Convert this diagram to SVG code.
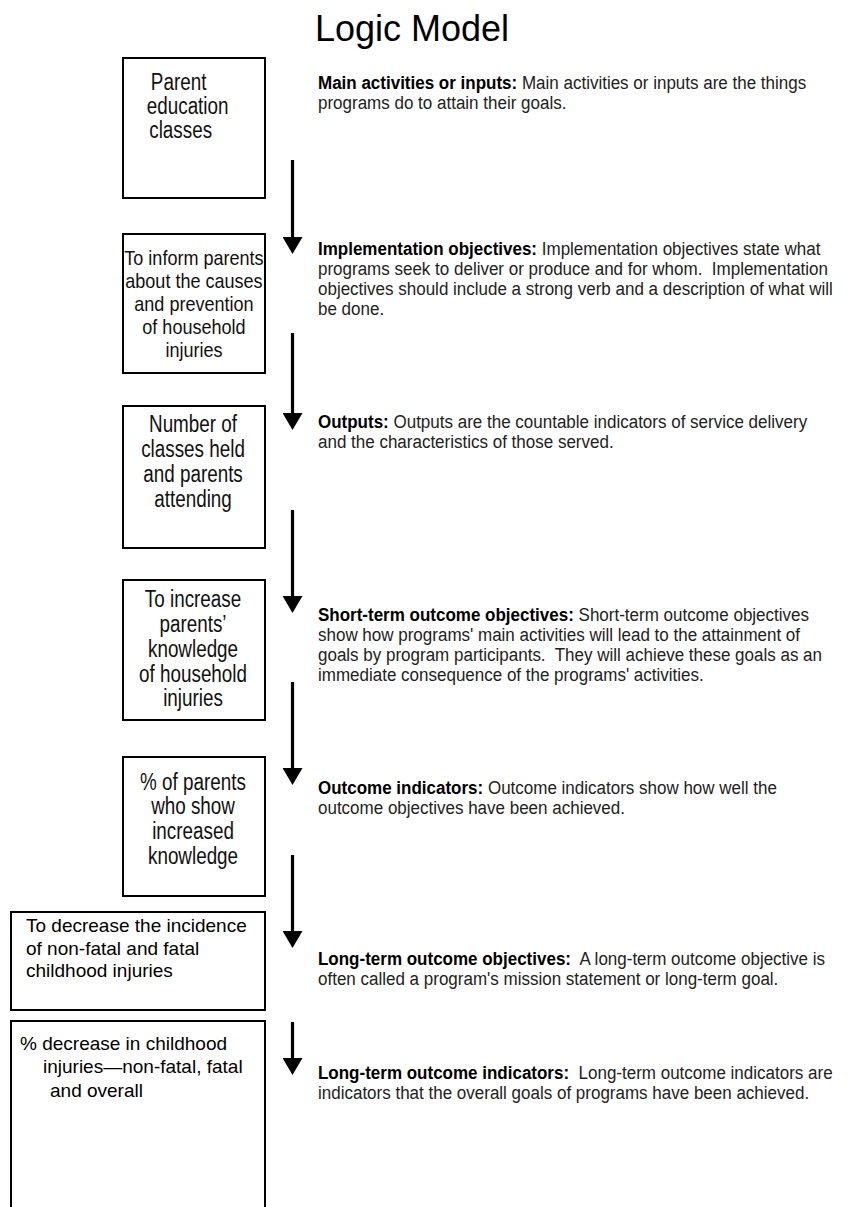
<svg xmlns="http://www.w3.org/2000/svg" width="854" height="1207" viewBox="0 0 854 1207">
<style>
.box{fill:#fff;stroke:#000;stroke-width:2}
.title{font-family:"Liberation Sans",Arial,sans-serif;font-size:36px;fill:#000}
.bt{font-family:"Liberation Sans",Arial,sans-serif;font-size:23px;fill:#111;text-anchor:middle}
.bt2{font-family:"Liberation Sans",Arial,sans-serif;font-size:21px;fill:#111;text-anchor:middle}
.btl{font-family:"Liberation Sans",Arial,sans-serif;font-size:23px;fill:#111}
.rt{font-family:"Liberation Sans",Arial,sans-serif;font-size:19px;fill:#222}
.b{font-weight:bold;fill:#000}
.wt{font-family:"Liberation Sans",Arial,sans-serif;font-size:19px;fill:#000}
.arr{stroke:#000;stroke-width:3.2;fill:none}
</style>
<defs>
<marker id="ah" viewBox="0 0 17 20" refX="9" refY="10" markerWidth="17" markerHeight="20" markerUnits="userSpaceOnUse" orient="auto">
<path d="M0,0 L17,10 L0,20 Z" fill="#000"/>
</marker>
</defs>
<rect width="854" height="1207" fill="#fff"/>
<text class="title" x="315" y="41">Logic Model</text>

<g id="connectors">
<line class="arr" x1="292.5" y1="160" x2="292.5" y2="246" marker-end="url(#ah)"/>
<line class="arr" x1="292.5" y1="333" x2="292.5" y2="422" marker-end="url(#ah)"/>
<line class="arr" x1="292.5" y1="510" x2="292.5" y2="605" marker-end="url(#ah)"/>
<line class="arr" x1="292.5" y1="682" x2="292.5" y2="777" marker-end="url(#ah)"/>
<line class="arr" x1="292.5" y1="855" x2="292.5" y2="940" marker-end="url(#ah)"/>
<line class="arr" x1="292.5" y1="1022" x2="292.5" y2="1067" marker-end="url(#ah)"/>
</g>

<g id="node1">
<rect class="box" x="123" y="58" width="142" height="140"/>
<g transform="scale(0.82,1)">
<text class="btl" x="184" y="90">Parent</text>
<text class="btl" x="179" y="114">education</text>
<text class="btl" x="182" y="138">classes</text>
</g>
</g>

<g id="node2">
<rect class="box" x="123" y="234" width="142" height="139"/>
<g transform="scale(0.859,1)">
<text class="bt2" x="225.8" y="265">To inform parents</text>
<text class="bt2" x="225.8" y="288">about the causes</text>
<text class="bt2" x="225.8" y="311">and prevention</text>
<text class="bt2" x="225.8" y="334">of household</text>
<text class="bt2" x="225.8" y="357">injuries</text>
</g>
</g>

<g id="node3">
<rect class="box" x="123" y="406" width="142" height="142"/>
<g transform="scale(0.82,1)">
<text class="bt" x="235.4" y="432">Number of</text>
<text class="bt" x="235.4" y="457">classes held</text>
<text class="bt" x="235.4" y="482">and parents</text>
<text class="bt" x="235.4" y="507">attending</text>
</g>
</g>

<g id="node4">
<rect class="box" x="123" y="580" width="142" height="140"/>
<g transform="scale(0.82,1)">
<text class="bt" x="235.4" y="607">To increase</text>
<text class="bt" x="235.4" y="632">parents’</text>
<text class="bt" x="235.4" y="657">knowledge</text>
<text class="bt" x="235.4" y="682">of household</text>
<text class="bt" x="235.4" y="706">injuries</text>
</g>
</g>

<g id="node5">
<rect class="box" x="123" y="757" width="142" height="139"/>
<g transform="scale(0.82,1)">
<text class="bt" x="235.4" y="790">% of parents</text>
<text class="bt" x="235.4" y="814">who show</text>
<text class="bt" x="235.4" y="839">increased</text>
<text class="bt" x="235.4" y="864">knowledge</text>
</g>
</g>

<g id="node6">
<rect class="box" x="11" y="912" width="254" height="98"/>
<text class="wt" x="26" y="932">To decrease the incidence</text>
<text class="wt" x="26" y="955">of non-fatal and fatal</text>
<text class="wt" x="26" y="977">childhood injuries</text>
</g>

<g id="node7">
<path class="box" d="M11,1208 V1021 H265 V1208"/>
<text class="wt" x="20" y="1050">% decrease in childhood</text>
<text class="wt" x="43" y="1073">injuries—non-fatal, fatal</text>
<text class="wt" x="50" y="1097">and overall</text>
</g>

<g id="descriptions" transform="scale(0.895,1)">
<text class="rt" x="355.3" y="89"><tspan class="b">Main activities or inputs:</tspan> Main activities or inputs are the things</text>
<text class="rt" x="355.3" y="109">programs do to attain their goals.</text>

<text class="rt" x="355.3" y="255"><tspan class="b">Implementation objectives:</tspan> Implementation objectives state what</text>
<text class="rt" x="355.3" y="275">programs seek to deliver or produce and for whom.&#160; Implementation</text>
<text class="rt" x="355.3" y="295">objectives should include a strong verb and a description of what will</text>
<text class="rt" x="355.3" y="315">be done.</text>

<text class="rt" x="355.3" y="428"><tspan class="b">Outputs:</tspan> Outputs are the countable indicators of service delivery</text>
<text class="rt" x="355.3" y="448">and the characteristics of those served.</text>

<text class="rt" x="355.3" y="621"><tspan class="b">Short-term outcome objectives:</tspan> Short-term outcome objectives</text>
<text class="rt" x="355.3" y="641">show how programs' main activities will lead to the attainment of</text>
<text class="rt" x="355.3" y="661">goals by program participants.&#160; They will achieve these goals as an</text>
<text class="rt" x="355.3" y="681">immediate consequence of the programs' activities.</text>

<text class="rt" x="355.3" y="794"><tspan class="b">Outcome indicators:</tspan> Outcome indicators show how well the</text>
<text class="rt" x="355.3" y="814">outcome objectives have been achieved.</text>

<text class="rt" x="355.3" y="965"><tspan class="b">Long-term outcome objectives:</tspan>&#160; A long-term outcome objective is</text>
<text class="rt" x="355.3" y="985">often called a program's mission statement or long-term goal.</text>

<text class="rt" x="355.3" y="1079"><tspan class="b">Long-term outcome indicators:</tspan>&#160; Long-term outcome indicators are</text>
<text class="rt" x="355.3" y="1099">indicators that the overall goals of programs have been achieved.</text>
</g>
</svg>
